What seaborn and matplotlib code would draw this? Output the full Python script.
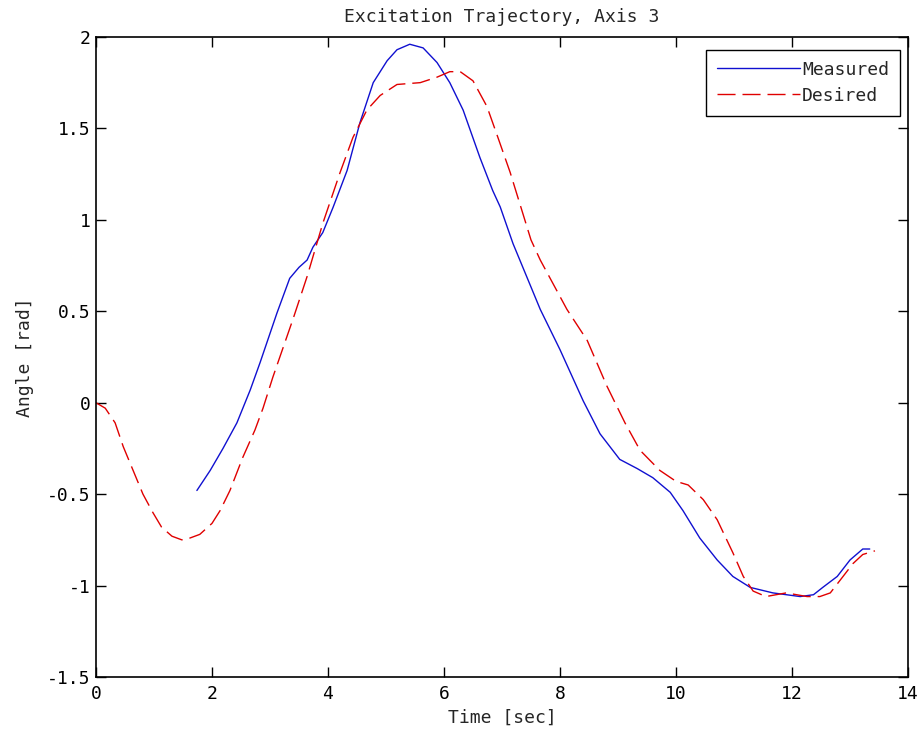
import numpy as np
import pandas as pd
import matplotlib
matplotlib.use("Agg")
import matplotlib.pyplot as plt
import seaborn as sns

# Desired trajectory (red dashed)
t_desired = [0.0, 0.16, 0.33, 0.47, 0.64, 0.81, 0.98, 1.13, 1.31, 1.48, 1.62, 1.79, 2.0, 2.14,
             2.31, 2.53, 2.74, 2.88, 3.05, 3.4, 3.64, 3.91, 4.21, 4.43, 4.67, 4.9, 5.19, 5.59,
             5.88, 6.1, 6.28, 6.5, 6.74, 6.93, 7.14, 7.5, 7.66, 8.12, 8.47, 8.81, 9.12, 9.38,
             9.72, 10.0, 10.21, 10.47, 10.71, 10.98, 11.16, 11.33, 11.55, 11.9, 12.26, 12.48,
             12.66, 12.88, 13.05, 13.22, 13.43]
y_desired = [0.0, -0.03, -0.11, -0.24, -0.37, -0.50, -0.60, -0.68, -0.73, -0.75, -0.74, -0.72, -0.66, -0.59,
             -0.48, -0.30, -0.15, -0.03, 0.14, 0.46, 0.69, 0.98, 1.26, 1.45, 1.60, 1.68, 1.74, 1.75,
             1.78, 1.81, 1.81, 1.76, 1.62, 1.45, 1.26, 0.89, 0.78, 0.51, 0.34, 0.09, -0.11, -0.26,
             -0.37, -0.43, -0.45, -0.53, -0.64, -0.82, -0.95, -1.03, -1.06, -1.04, -1.06, -1.06,
             -1.04, -0.95, -0.88, -0.83, -0.81]

# Measured trajectory (blue solid)
t_measured = [1.74, 1.97, 2.19, 2.43, 2.66, 2.83, 3.12, 3.34, 3.5, 3.64, 3.74, 3.91, 4.09, 4.33,
              4.55, 4.78, 5.02, 5.19, 5.41, 5.64, 5.88, 6.1, 6.33, 6.62, 6.84, 6.97, 7.19, 7.66,
              8.0, 8.4, 8.69, 9.03, 9.33, 9.6, 9.9, 10.12, 10.41, 10.71, 10.98, 11.28, 11.67,
              12.14, 12.37, 12.53, 12.78, 13.0, 13.22, 13.34]
y_measured = [-0.48, -0.37, -0.25, -0.11, 0.07, 0.22, 0.49, 0.68, 0.74, 0.78, 0.85, 0.93, 1.07, 1.27,
              1.53, 1.75, 1.87, 1.93, 1.96, 1.94, 1.86, 1.75, 1.60, 1.34, 1.16, 1.07, 0.87, 0.51,
              0.29, 0.01, -0.17, -0.31, -0.36, -0.41, -0.49, -0.59, -0.74, -0.86, -0.95, -1.01, -1.04,
              -1.06, -1.05, -1.01, -0.95, -0.86, -0.80, -0.80]

x_ticks = [0, 2, 4, 6, 8, 10, 12, 14]
y_ticks = [-1.5, -1, -0.5, 0, 0.5, 1, 1.5, 2]
y_tick_labels = ["-1.5", "-1", "-0.5", "0", "0.5", "1", "1.5", "2"]

sns.set_style("ticks")
plt.rcParams["font.family"] = ["DejaVu Sans Mono"]

fig = plt.figure(figsize=(9.21, 7.4), dpi=100)
ax = fig.add_axes([0.1042, 0.0851, 0.8817, 0.865])

df_m = pd.DataFrame({"t": t_measured, "y": y_measured})
df_d = pd.DataFrame({"t": t_desired, "y": y_desired})

sns.lineplot(data=df_m, x="t", y="y", ax=ax, color="#1010d0", lw=1.0,
             sort=False, estimator=None, label="Measured")
sns.lineplot(data=df_d, x="t", y="y", ax=ax, color="#e00000", lw=1.0,
             sort=False, estimator=None, label="Desired")
ax.lines[1].set_dashes([13, 5])

ax.set_xlim(0, 14)
ax.set_ylim(-1.5, 2)
ax.set_xticks(x_ticks)
ax.set_xticklabels([str(v) for v in x_ticks])
ax.set_yticks(y_ticks)
ax.set_yticklabels(y_tick_labels)
ax.tick_params(direction="in", length=7, width=1, top=True, right=True,
               labelsize=13, colors="black")
ax.tick_params(axis="x", pad=6)
ax.tick_params(axis="y", pad=4)
for s in ax.spines.values():
    s.set_visible(True)
    s.set_linewidth(1.2)
    s.set_color("black")

ax.set_xlabel("Time [sec]", fontsize=13, labelpad=4)
ax.set_ylabel("Angle [rad]", fontsize=13, labelpad=9)
ax.set_title("Excitation Trajectory, Axis 3", fontsize=13, pad=11)

leg = ax.legend(loc="upper right", bbox_to_anchor=(0.99, 0.98), fontsize=13,
                handlelength=4.6, handletextpad=0.1, frameon=True, fancybox=False,
                borderaxespad=0.0, borderpad=0.6, labelspacing=0.45)
leg.get_frame().set_edgecolor("black")
leg.get_frame().set_linewidth(1.0)
leg.get_frame().set_alpha(1.0)

fig.savefig("out.png", dpi=100, facecolor="white")
